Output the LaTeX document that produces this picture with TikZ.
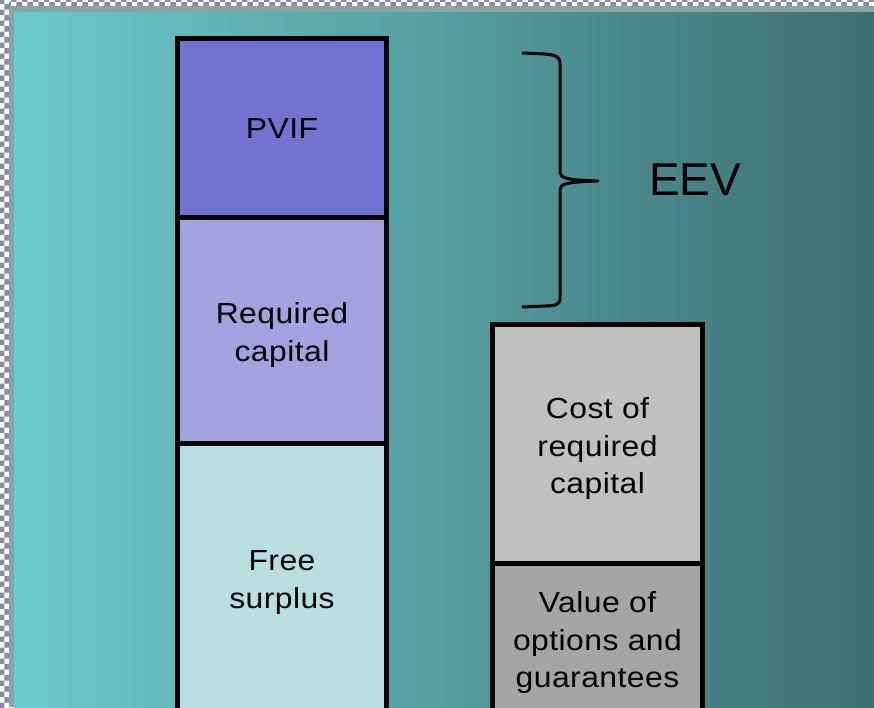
\documentclass[tikz,border=0pt]{standalone}
\usepackage{fontspec}
\setmainfont{Liberation Sans}
\newfontfamily\slabfont{Liberation Sans}[FakeStretch=1.1,LetterSpace=1.5]
\usepackage{xcolor,tikz}
\usetikzlibrary{positioning,patterns}

\definecolor{bgleft}{HTML}{6CCACE}
\definecolor{bgright}{HTML}{3E6F70}
\definecolor{frameband}{HTML}{8AA3A3}
\definecolor{checkgray}{HTML}{8C8AA3}
\definecolor{pvifcol}{HTML}{7373D1}
\definecolor{reqcol}{HTML}{A3A3E0}
\definecolor{freecol}{HTML}{B8E0E3}
\definecolor{costcol}{HTML}{C0C0C0}
\definecolor{optcol}{HTML}{A5A5A5}

\tikzset{
  slab/.style={draw=black,line width=5pt,outer sep=0pt,inner sep=0pt},
  leftslab/.style={slab,minimum width=209pt},
  rightslab/.style={slab,minimum width=210pt},
  slabtext/.style={align=center,inner sep=0pt,yshift=-5pt,
    font=\slabfont\fontsize{29}{37.5}\selectfont},
}

\begin{document}
\begin{tikzpicture}[x=1pt,y=-1pt]
\clip (0,0) rectangle (874,707);
\useasboundingbox (0,0) rectangle (874,707);
% frame strips and background
\fill[white] (0,0) rectangle (874,707);
\fill[pattern=checkerboard,pattern color=checkgray] (0,0) rectangle (9,707);
\fill[pattern=checkerboard,pattern color=checkgray] (9,0) rectangle (874,6);
\fill[frameband] (9,6) rectangle (874,707);
\shade[left color=bgleft,right color=bgright] (14,12) rectangle (874,707);

% left column
\node[leftslab,fill=pvifcol,minimum height=178.5pt,anchor=north] (pvif) at (282,38.5) {};
\node[leftslab,fill=reqcol,minimum height=226pt,below=0pt of pvif] (reqcap) {};
\node[leftslab,fill=freecol,minimum height=269pt,below=0pt of reqcap] (freesur) {};

% right column
\node[rightslab,fill=costcol,minimum height=238.5pt,anchor=north] (costcap) at (597.5,324.5) {};
\node[rightslab,fill=optcol,minimum height=149pt,below=0pt of costcap] (optgar) {};

% labels
\node[slabtext,yshift=4pt] (pviftext) at (pvif.center) {PVIF};
\node[slabtext] (reqtext) at (reqcap.center) {Required\\capital};
\node[slabtext] (freetext) at (freesur.center) {Free\\surplus};
\node[slabtext] (costtext) at (costcap.center) {Cost of\\required\\capital};
\node[slabtext] (opttext) at (optgar.center) {Value of\\options and\\guarantees};

% brace
\coordinate (brtop) at (522,53);
\coordinate (brbot) at (522,307);
\coordinate (brtip) at (598,181);
\draw[line width=3pt,line join=round] (brtop) -- (545,54)
  .. controls (556,55) and (560,57) .. (560,63) -- (560,172)
  .. controls (560,178) and (566,180) .. (brtip)
  .. controls (566,182) and (560,184) .. (560,190) -- (560,299)
  .. controls (560,304) and (556,306) .. (545,306) -- (brbot);
\node[anchor=west,font=\fontsize{46}{50}\selectfont,inner sep=0pt] (eev) at (649,180) {EEV};
\end{tikzpicture}
\end{document}
